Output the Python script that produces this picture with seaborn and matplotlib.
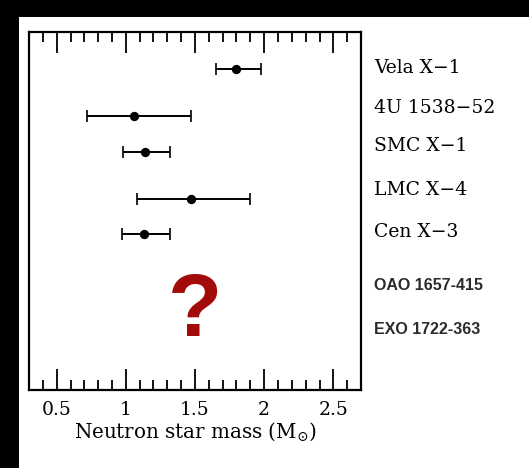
import matplotlib
matplotlib.use("Agg")
import matplotlib.pyplot as plt
import matplotlib.patches as mpatches
from matplotlib.ticker import MultipleLocator
import seaborn as sns
import pandas as pd

# ---- data ----
names = ["Vela X\u22121", "4U 1538\u221252", "SMC X\u22121", "LMC X\u22124", "Cen X\u22123"]
mass = [1.80, 1.06, 1.14, 1.47, 1.13]
mass_lo = [1.65, 0.72, 0.98, 1.08, 0.97]
mass_hi = [1.98, 1.47, 1.32, 1.90, 1.32]
row_pos = [1.03, 2.34, 3.34, 4.66, 5.64]
label_pos = [1.00, 2.12, 3.18, 4.41, 5.59]
extra_names = ["OAO 1657-415", "EXO 1722-363"]
extra_pos = [7.07, 8.32]
xticks = [0.5, 1, 1.5, 2, 2.5]
xticklabels = ["0.5", "1", "1.5", "2", "2.5"]
xlabel = r"Neutron star mass (M$_{\odot}$)"

df = pd.DataFrame({"name": names, "mass": mass, "lo": mass_lo, "hi": mass_hi, "pos": row_pos})

sns.set_theme(style="white")
plt.rcParams["font.family"] = ["DejaVu Serif"]
plt.rcParams["mathtext.fontset"] = "dejavuserif"

fig = plt.figure(figsize=(5.29, 4.68), dpi=100, facecolor="black")
fig.patches.append(mpatches.Rectangle((19 / 529, 0), 1, (468 - 17) / 468,
                                      transform=fig.transFigure, facecolor="white",
                                      edgecolor="none", zorder=-10))
ax = fig.add_axes([29 / 529, 1 - 390 / 468, (361 - 29) / 529, (390 - 32) / 468])
ax.set_zorder(5)
ax.set_facecolor("white")

ax.errorbar(df["mass"], df["pos"],
            xerr=[df["mass"] - df["lo"], df["hi"] - df["mass"]],
            fmt="none", ecolor="black", elinewidth=1.4, capsize=4.5, capthick=1.2, zorder=2)
sns.scatterplot(data=df, x="mass", y="pos", color="black", s=45, marker="o",
                edgecolor="black", linewidth=0, ax=ax, zorder=3, legend=False)

ax.set_xlim(0.3, 2.7)
ax.set_ylim(10, 0)
ax.set_xticks(xticks)
ax.set_xticklabels(xticklabels)
ax.xaxis.set_minor_locator(MultipleLocator(0.1))
ax.set_yticks([])
ax.tick_params(axis="x", which="major", direction="in", length=15, width=1.3,
               top=True, bottom=True, labelsize=13.5, pad=8, color="black", labelcolor="black")
ax.tick_params(axis="x", which="minor", direction="in", length=7, width=1.3,
               top=True, bottom=True, color="black")
for s in ax.spines.values():
    s.set_color("black")
    s.set_linewidth(1.6)
ax.set_xlabel(xlabel, fontsize=14.3, color="black", labelpad=1)
ax.set_ylabel("")

trans = matplotlib.transforms.blended_transform_factory(ax.transAxes, ax.transData)
for n, p in zip(names, label_pos):
    ax.text(1.04, p, n, transform=trans, fontsize=13.5, va="center", ha="left",
            color="black", clip_on=False)
for n, p in zip(extra_names, extra_pos):
    ax.text(1.04, p, n, transform=trans, fontsize=11.5, va="center", ha="left",
            color="#2b2b2b", fontweight="bold", family=["Liberation Sans", "DejaVu Sans"],
            clip_on=False)

ax.text(1.5, 7.85, "?", fontsize=64, fontweight="bold", color="#a30a0a",
        ha="center", va="center", family=["Liberation Sans", "DejaVu Sans"])

fig.savefig("out.png", dpi=100, facecolor="black")
